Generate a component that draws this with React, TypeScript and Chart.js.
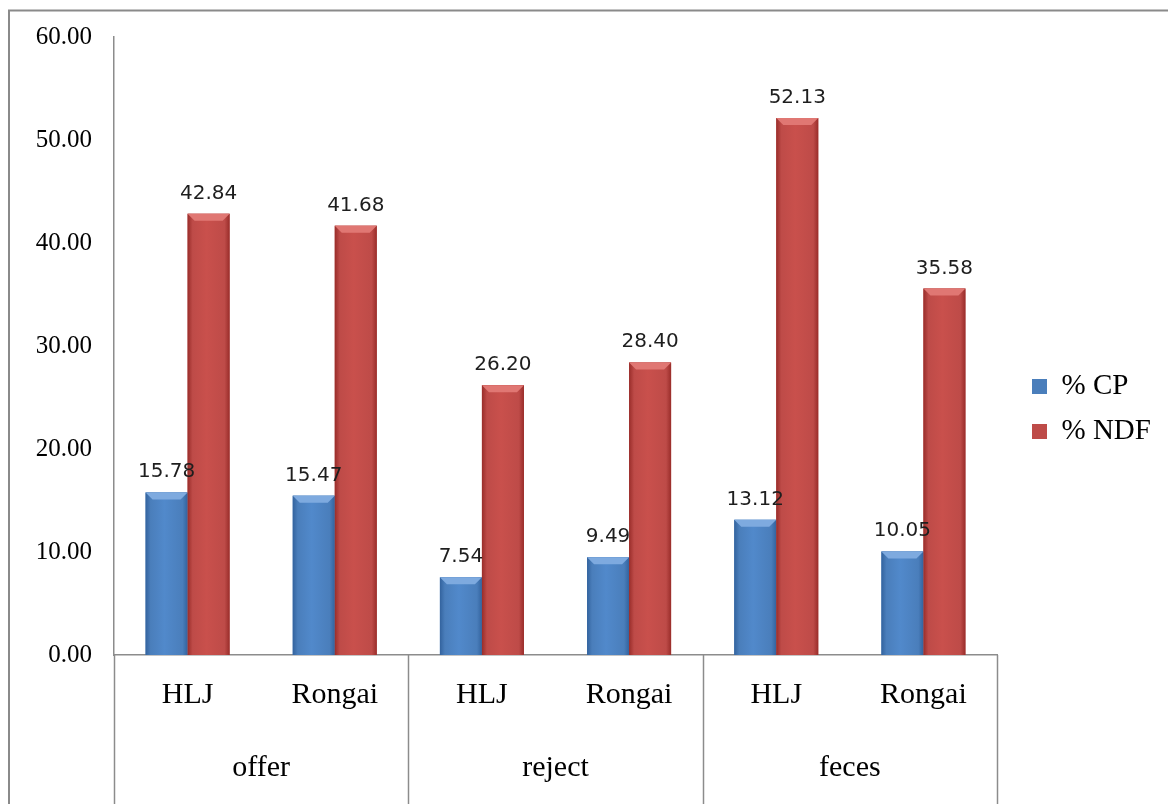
import React, { useEffect, useRef } from "react";
import { Chart, registerables } from "chart.js";

Chart.register(...registerables);

// ---- data ----
const subCategories = ["HLJ", "Rongai", "HLJ", "Rongai", "HLJ", "Rongai"];
const groupLabels = ["offer", "reject", "feces"];
const seriesNames = ["% CP", "% NDF"];
const cpValues = [15.78, 15.47, 7.54, 9.49, 13.12, 10.05];
const ndfValues = [42.84, 41.68, 26.2, 28.4, 52.13, 35.58];
const yTicks = [0, 10, 20, 30, 40, 50, 60];

// ---- styles ----
const SERIF = "'Liberation Serif', 'Times New Roman', serif";
const SANS = "'DejaVu Sans', sans-serif";
const AXIS_GRAY = "#8c8c8c";
const BAR_STYLE = [
  { base: "#4a7ebb", edge: "#33639e", mid: "#5189cb", bevel: "#7eaadf" },
  { base: "#be4b48", edge: "#992d2a", mid: "#c9504c", bevel: "#e07773" },
];
const CANVAS_W = 1160;
const CANVAS_H = 796;

const frameAndSeparators = {
  id: "frameAndSeparators",
  afterDraw(chart: any) {
    const ctx = chart.ctx;
    const xs = chart.scales.x;
    const area = chart.chartArea;
    ctx.save();
    // outer frame (left + top)
    ctx.strokeStyle = "#8a8a8a";
    ctx.lineWidth = 2;
    ctx.beginPath();
    ctx.moveTo(1, CANVAS_H);
    ctx.lineTo(1, 2.5);
    ctx.lineTo(CANVAS_W, 2.5);
    ctx.stroke();
    // group separators below the axis
    ctx.strokeStyle = AXIS_GRAY;
    ctx.lineWidth = 1.5;
    for (let g = 0; g <= groupLabels.length; g++) {
      const px = Math.round(xs.getPixelForValue(g * 2 - 0.5)) + 0.5;
      ctx.beginPath();
      ctx.moveTo(px, area.bottom);
      ctx.lineTo(px, CANVAS_H);
      ctx.stroke();
    }
    ctx.restore();
  },
};

const barShading = {
  id: "barShading",
  afterDatasetsDraw(chart: any) {
    const ctx = chart.ctx;
    ctx.save();
    chart.data.datasets.forEach((_ds: any, di: number) => {
      const meta = chart.getDatasetMeta(di);
      const st = BAR_STYLE[di];
      meta.data.forEach((el: any) => {
        const { x, y, base, width } = el.getProps(["x", "y", "base", "width"], true);
        const l = x - width / 2;
        const r = x + width / 2;
        const t = Math.min(y, base);
        const b = Math.max(y, base);
        const g = ctx.createLinearGradient(l, 0, r, 0);
        g.addColorStop(0, st.edge);
        g.addColorStop(0.12, st.base);
        g.addColorStop(0.45, st.mid);
        g.addColorStop(0.88, st.base);
        g.addColorStop(1, st.edge);
        ctx.fillStyle = g;
        ctx.fillRect(l, t, width, b - t);
        const bev = Math.min(7, (b - t) / 2);
        ctx.beginPath();
        ctx.moveTo(l, t);
        ctx.lineTo(r, t);
        ctx.lineTo(r - bev, t + bev);
        ctx.lineTo(l + bev, t + bev);
        ctx.closePath();
        ctx.fillStyle = st.bevel;
        ctx.fill();
      });
    });
    // data labels
    ctx.font = `20px ${SANS}`;
    ctx.fillStyle = "#1e1e1e";
    ctx.textAlign = "center";
    ctx.textBaseline = "alphabetic";
    chart.data.datasets.forEach((ds: any, di: number) => {
      const meta = chart.getDatasetMeta(di);
      meta.data.forEach((el: any, i: number) => {
        const { x, y } = el.getProps(["x", "y"], true);
        ctx.fillText(Number(ds.data[i]).toFixed(2), x, y - 15);
      });
    });
    ctx.restore();
  },
};

const legendPlacement = {
  id: "legendPlacement",
  afterLayout(chart: any) {
    const lg = chart.legend;
    if (!lg) return;
    const w = lg.width;
    const h = lg.height;
    lg.left = 1008;
    lg.top = 348;
    lg.right = lg.left + w;
    lg.bottom = lg.top + h;
  },
};

export default function App() {
  const canvasRef = useRef<HTMLCanvasElement | null>(null);

  useEffect(() => {
    if (!canvasRef.current) return;
    const chart = new Chart(canvasRef.current, {
      type: "bar",
      data: {
        labels: subCategories,
        datasets: [
          {
            label: seriesNames[0],
            data: cpValues,
            backgroundColor: BAR_STYLE[0].base,
            borderWidth: 0,
            categoryPercentage: 0.571,
            barPercentage: 1.0,
          },
          {
            label: seriesNames[1],
            data: ndfValues,
            backgroundColor: BAR_STYLE[1].base,
            borderWidth: 0,
            categoryPercentage: 0.571,
            barPercentage: 1.0,
          },
        ],
      },
      options: {
        responsive: false,
        animation: false,
        devicePixelRatio: 1,
        layout: { padding: { left: 0, top: 29, right: 171, bottom: 0 } },
        plugins: {
          legend: {
            display: true,
            position: "chartArea" as any,
            align: "start",
            labels: {
              boxWidth: 15,
              boxHeight: 15,
              padding: 16,
              color: "#000",
              font: { family: SERIF, size: 29 },
            },
          },
          tooltip: { enabled: false },
          title: { display: false },
        },
        scales: {
          x: {
            type: "category",
            position: "bottom",
            offset: true,
            weight: 0,
            grid: { display: false, drawTicks: false },
            border: { display: true, color: AXIS_GRAY, width: 1.5 },
            ticks: {
              color: "#000",
              font: { family: SERIF, size: 30 },
              padding: 22,
              maxRotation: 0,
              autoSkip: false,
            },
            afterFit: (s: any) => {
              s.height = 70;
            },
          },
          x2: {
            type: "category",
            labels: groupLabels,
            position: "bottom",
            offset: true,
            weight: 1,
            grid: { display: false, drawTicks: false },
            border: { display: false },
            ticks: {
              color: "#000",
              font: { family: SERIF, size: 30 },
              padding: 25,
              maxRotation: 0,
              autoSkip: false,
            },
            afterFit: (s: any) => {
              s.height = 79;
            },
          },
          y: {
            min: yTicks[0],
            max: yTicks[yTicks.length - 1],
            grid: { display: false, drawTicks: false },
            border: { display: true, color: AXIS_GRAY, width: 1.5 },
            ticks: {
              color: "#000",
              font: { family: SERIF, size: 25 },
              padding: 22,
              callback: (v: any) => Number(v).toFixed(2),
            },
            afterBuildTicks: (s: any) => {
              s.ticks = yTicks.map((v) => ({ value: v }));
            },
            afterFit: (s: any) => {
              s.width = 106;
              s.paddingTop = 0;
              s.paddingBottom = 0;
            },
          },
        } as any,
      },
      plugins: [legendPlacement, barShading, frameAndSeparators],
    });
    return () => chart.destroy();
  }, []);

  return (
    <div
      style={{
        position: "absolute",
        left: 8,
        top: 8,
        width: CANVAS_W,
        height: CANVAS_H,
        background: "#fff",
      }}
    >
      <canvas ref={canvasRef} width={CANVAS_W} height={CANVAS_H} style={{ display: "block" }} />
    </div>
  );
}
